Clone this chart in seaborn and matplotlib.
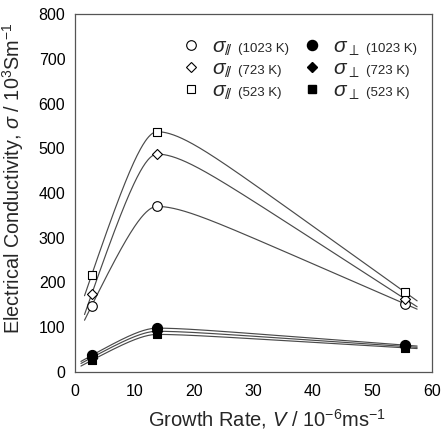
import numpy as np
import pandas as pd
import matplotlib
matplotlib.use("Agg")
import matplotlib.pyplot as plt
import seaborn as sns

# ---- data ----
growth_rate = [2.8, 13.8, 55.5]
par_1023 = [148, 370, 152]
par_723 = [174, 487, 163]
par_523 = [217, 537, 178]
perp_1023 = [37, 98, 60]
perp_723 = [32, 91, 57]
perp_523 = [26, 84, 54]
temps = ["1023 K", "723 K", "523 K"]

sns.set_style("white")
plt.rcParams["font.family"] = ["Liberation Sans", "DejaVu Sans"]
plt.rcParams["mathtext.fontset"] = "custom"
plt.rcParams["mathtext.rm"] = "Liberation Sans"
plt.rcParams["mathtext.it"] = "Liberation Sans:italic"
plt.rcParams["mathtext.bf"] = "Liberation Sans:bold"


def smooth_curve(xs, ys, x_lo, x_hi, tau_a=3.0, tau_b=4.0, n=400):
    """Smooth curve through the three points: rounded peak at the middle one."""
    x0, x1, x2 = [float(v) for v in xs]
    y0, y1, y2 = [float(v) for v in ys]
    h0, h1 = x1 - x0, x2 - x1
    ea = np.exp(-h0 / tau_a)
    ka = (y1 - y0) / (h0 - tau_a * (1 - ea))
    aa = -ka * tau_a
    eb = np.exp(-h1 / tau_b)
    kb = (y2 - y1) / (h1 - tau_b * (1 - eb))
    ab = -kb * tau_b
    xg = np.linspace(x_lo, x_hi, n)
    rise = y0 + ka * (xg - x0) + aa * (np.exp((xg - x1) / tau_a) - ea)
    fall = y2 + kb * (xg - x2) - ab * (np.exp(-(xg - x1) / tau_b) - eb)
    yg = np.where(xg <= x1, rise, fall)
    return xg, yg


fig = plt.figure(figsize=(4.46, 4.32), dpi=100)
ax = fig.add_axes([75 / 446, 1 - 372 / 432, 357 / 446, 358 / 432])

line_color = "#4a4a4a"
par_series = [par_1023, par_723, par_523]
perp_series = [perp_1023, perp_723, perp_523]

for ys in par_series:
    xg, yg = smooth_curve(growth_rate, ys, 1.6, 57.5)
    sns.lineplot(x=xg, y=yg, ax=ax, color=line_color, lw=0.85, sort=False, zorder=2)
for ys in perp_series:
    xg, yg = smooth_curve(growth_rate, ys, 1.0, 57.5)
    sns.lineplot(x=xg, y=yg, ax=ax, color=line_color, lw=0.85, sort=False, zorder=2)

markers = ["o", "D", "s"]
sizes = [48, 26, 28]
handles = []
labels = []
for ys, mk, sz in zip(par_series, markers, sizes):
    df = pd.DataFrame({"x": growth_rate, "y": ys})
    sns.scatterplot(data=df, x="x", y="y", ax=ax, marker=mk, s=sz,
                    facecolor="white", edgecolor="black", linewidth=0.8, zorder=3)
    handles.append(plt.Line2D([], [], ls="none", marker=mk, markersize=np.sqrt(sz),
                              markerfacecolor="white", markeredgecolor="black",
                              markeredgewidth=0.8))
    labels.append(r"$\sigma_{/\!/}$")
for ys, mk, sz in zip(perp_series, markers, sizes):
    df = pd.DataFrame({"x": growth_rate, "y": ys})
    sns.scatterplot(data=df, x="x", y="y", ax=ax, marker=mk, s=sz * 1.1,
                    color="black", edgecolor="black", linewidth=0.8, zorder=3)
    handles.append(plt.Line2D([], [], ls="none", marker=mk, markersize=np.sqrt(sz * 1.1),
                              markerfacecolor="black", markeredgecolor="black"))
    labels.append(r"$\sigma_{\perp}$")

ax.set_xlim(0, 60)
ax.set_ylim(0, 800)
ax.set_xticks(np.arange(0, 61, 10))
ax.set_yticks(np.arange(0, 801, 100))
ax.tick_params(axis="x", direction="in", length=5, width=0.8, labelsize=11.5, pad=9,
               colors="#333333", labelcolor="black")
ax.tick_params(axis="y", direction="in", length=5, width=0.8, labelsize=11.5, pad=7,
               colors="#333333", labelcolor="black")
for sp in ax.spines.values():
    sp.set_visible(True)
    sp.set_color("#555555")
    sp.set_linewidth(0.9)

ax.set_xlabel(r"Growth Rate, $V$ / 10$^{-6}$ms$^{-1}$", fontsize=14.5)
ax.set_ylabel(r"Electrical Conductivity, $\sigma$ / 10$^{3}$Sm$^{-1}$", fontsize=14.3)
ax.xaxis.set_label_coords(0.538, -0.098)
ax.yaxis.set_label_coords(-0.138, 0.542)

leg = ax.legend(handles, labels, ncol=2, frameon=False, loc="upper left",
                bbox_to_anchor=(0.295, 0.935), fontsize=15, handlelength=1.0,
                handletextpad=0.5, columnspacing=3.35, labelspacing=0.08,
                borderpad=0, borderaxespad=0)

fig.canvas.draw()
renderer = fig.canvas.get_renderer()
inv = fig.transFigure.inverted()
for txt, tp in zip(leg.get_texts(), temps * 2):
    bb = txt.get_window_extent(renderer)
    x0, y0 = inv.transform((bb.x1 + 6, bb.y0 + bb.height * 0.45))
    fig.text(x0, y0, f"({tp})", fontsize=9.5, va="center", ha="left")

fig.savefig("out.png", dpi=100)
